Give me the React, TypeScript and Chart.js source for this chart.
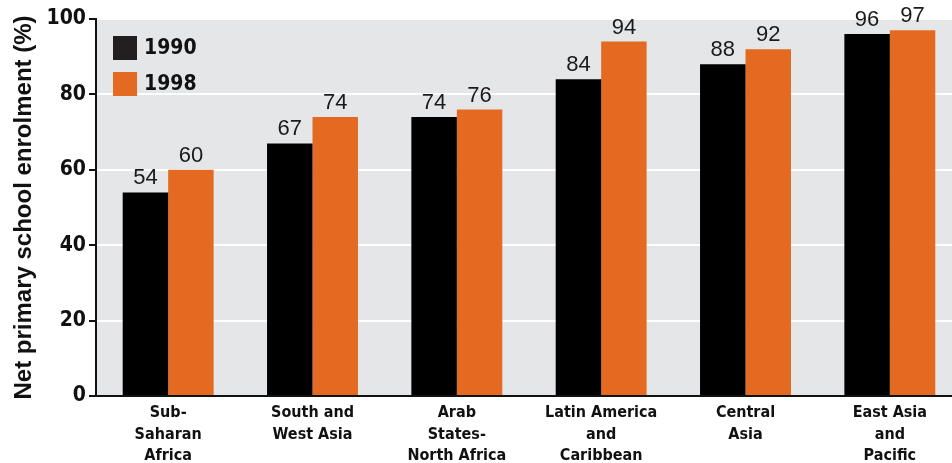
import React, { useEffect, useRef } from "react";
import { Chart, registerables } from "chart.js";

Chart.register(...registerables);

const categories: string[][] = [
  ["Sub-", "Saharan", "Africa"],
  ["South and", "West Asia"],
  ["Arab", "States-", "North Africa"],
  ["Latin America", "and", "Caribbean"],
  ["Central", "Asia"],
  ["East Asia", "and", "Pacific"],
];
const series1990: number[] = [54, 67, 74, 84, 88, 96];
const series1998: number[] = [60, 74, 76, 94, 92, 97];
const seriesLabels = ["1990", "1998"];
const yTicks = [0, 20, 40, 60, 80, 100];

const BLACK = "#000000";
const ORANGE = "#E46A21";
const NARROW = "'DejaVu Sans Condensed', 'Liberation Sans Narrow', 'Liberation Sans', sans-serif";

const bgPlugin = {
  id: "plotBg",
  beforeDraw(chart: any) {
    const { ctx, chartArea } = chart;
    ctx.save();
    ctx.fillStyle = "#E5E6E8";
    ctx.fillRect(chartArea.left, chartArea.top, chartArea.right - chartArea.left, chartArea.bottom - chartArea.top);
    ctx.restore();
  },
};

const labelPlugin = {
  id: "valueLabels",
  afterDatasetsDraw(chart: any) {
    const { ctx } = chart;
    ctx.save();
    ctx.font = "22px 'Liberation Sans', Arial, sans-serif";
    ctx.fillStyle = "#1a1a1a";
    ctx.textAlign = "center";
    ctx.textBaseline = "bottom";
    chart.data.datasets.forEach((ds: any, i: number) => {
      const meta = chart.getDatasetMeta(i);
      meta.data.forEach((el: any, j: number) => {
        ctx.fillText(String(ds.data[j]), el.x, el.y - 3);
      });
    });
    ctx.restore();
  },
};

const legendPlugin = {
  id: "insideLegend",
  afterDraw(chart: any) {
    const { ctx, chartArea } = chart;
    ctx.save();
    const x = chartArea.left + 17;
    const colors = ["#231F20", ORANGE];
    ctx.font = "bold 21px " + NARROW;
    ctx.textBaseline = "middle";
    ctx.textAlign = "left";
    seriesLabels.forEach((lab, i) => {
      const y = chartArea.top + 17 + i * 36;
      ctx.fillStyle = colors[i];
      ctx.fillRect(x, y, 24, 24);
      ctx.fillStyle = "#111";
      ctx.fillText(lab, x + 31, y + 13);
    });
    ctx.restore();
  },
};

export default function App() {
  const ref = useRef<HTMLCanvasElement>(null);
  useEffect(() => {
    document.body.style.margin = "0";
    const chart = new Chart(ref.current!, {
      type: "bar",
      data: {
        labels: categories,
        datasets: [
          { label: seriesLabels[0], data: series1990, backgroundColor: BLACK, categoryPercentage: 0.63, barPercentage: 1 },
          { label: seriesLabels[1], data: series1998, backgroundColor: ORANGE, categoryPercentage: 0.63, barPercentage: 1 },
        ],
      },
      options: {
        responsive: false,
        animation: false,
        layout: { padding: { top: 19, right: 0, left: 0, bottom: 0 } },
        plugins: { legend: { display: false }, tooltip: { enabled: false } },
        scales: {
          x: {
            grid: { display: false, drawTicks: false },
            border: { color: "#111", width: 2 },
            ticks: {
              color: "#111",
              font: { family: NARROW, size: 16, weight: "bold", lineHeight: 1.35 },
              padding: 6,
              maxRotation: 0,
              autoSkip: false,
            },
            afterFit(scale: any) {
              scale.height = 67;
            },
          },
          y: {
            min: 0,
            max: 100,
            afterBuildTicks(scale: any) {
              scale.ticks = yTicks.map((v) => ({ value: v }));
            },
            grid: { color: "#FFFFFF", lineWidth: 2, tickColor: "#111", tickLength: 7, tickWidth: 2 },
            border: { color: "#111", width: 2 },
            ticks: {
              color: "#111",
              font: { family: NARROW, size: 21, weight: "bold" },
              padding: 3,
            },
            title: {
              display: true,
              text: "Net primary school enrolment (%)",
              color: "#111",
              font: { family: "'Liberation Sans', Arial, sans-serif", size: 24, weight: "bold" },
              padding: { top: 10, bottom: 8 },
            },
            afterFit(scale: any) {
              scale.width = 96;
            },
          },
        },
      },
      plugins: [bgPlugin, labelPlugin, legendPlugin],
    });
    return () => chart.destroy();
  }, []);
  return (
    <div style={{ width: 952, height: 463, overflow: "hidden" }}>
      <canvas ref={ref} width={962} height={463} style={{ display: "block" }} />
    </div>
  );
}
